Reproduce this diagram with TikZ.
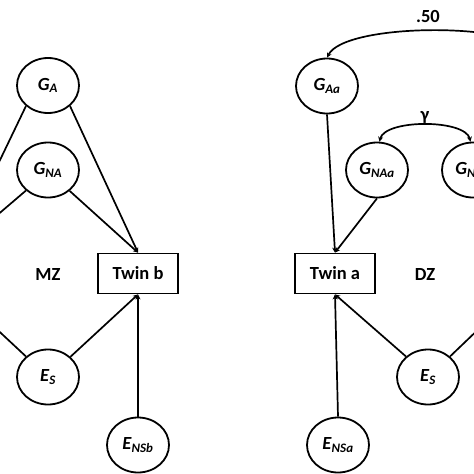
\documentclass[tikz,border=0pt]{standalone}
\usepackage{fontspec}
\setmainfont{Carlito}
\usepackage{tikz}
\usetikzlibrary{shapes.geometric, arrows.meta, positioning, calc}

\begin{document}
\begin{tikzpicture}[
    x=1pt, y=-1pt,
    every node/.style={font=\fontsize{18.5}{22}\selectfont\bfseries},
    latent/.style={draw, ellipse, line width=1.8pt, minimum width=62pt, minimum height=55pt, inner sep=0pt},
    twin/.style={draw, rectangle, line width=1.8pt, minimum width=80pt, minimum height=40pt, inner sep=0pt},
    path/.style={line width=1.7pt},
    arrow/.style={-{Stealth[length=5pt, width=5pt]}, line width=1.7pt},
    dblarrow/.style={{Stealth[length=5pt, width=5pt]}-{Stealth[length=5pt, width=5pt]}, line width=1.7pt},
  ]
  \useasboundingbox (0,0) rectangle (474,474);
  \clip (0,0) rectangle (474,474);

  % MZ pair - twin b side
  \node[latent] (ga) at (48,85.5) {\textit{G}\textsubscript{\textit{A}}};
  \node[latent] (gna) at (48,170) {\textit{G}\textsubscript{\textit{NA}}};
  \node[latent] (es) at (48,377) {\textit{E}\textsubscript{\textit{S}}};
  \node[twin] (twinb) at (138,273.5) {Twin b};
  \node[latent] (ensb) at (138,445) {\textit{E}\textsubscript{\textit{NSb}}};
  \node (mz) at (48,274) {MZ};

  % DZ pair - twin a side
  \node[latent] (gaa) at (327,86) {\textit{G}\textsubscript{\textit{Aa}}};
  \node[latent] (gnaa) at (377,170) {\textit{G}\textsubscript{\textit{NAa}}};
  \node[latent] (gnab) at (473,170) {\textit{G}\textsubscript{\textit{NAb}}};
  \node[twin] (twina) at (335,273.5) {Twin a};
  \node[latent] (esr) at (428,377) {\textit{E}\textsubscript{\textit{S}}};
  \node[latent] (ensa) at (338,445) {\textit{E}\textsubscript{\textit{NSa}}};
  \node (dz) at (425,274) {DZ};

  % Free ends leaving the frame
  \coordinate (offga) at (-12,185);
  \coordinate (offgna) at (-12,223);
  \coordinate (offes) at (-12,321);
  \coordinate (offesr) at (486,322);
  \coordinate (gab) at (540,57);

  % Paths - MZ
  \draw[path] (ga.-137) -- (offga);
  \draw[arrow] (ga.-43) -- (twinb.north);
  \draw[path] (gna.-137) -- (offgna);
  \draw[arrow] (gna.-44) -- (twinb.north);
  \draw[path] (es.137) -- (offes);
  \draw[arrow] (es.42) -- (twinb.south);
  \draw[arrow] (ensb.north) -- (twinb.south);

  % Paths - DZ
  \draw[arrow] (gaa.south) -- (twina.north);
  \draw[arrow] (gnaa.south) -- (twina.north);
  \draw[arrow] (esr.137) -- (twina.south);
  \draw[path] (esr.43) -- (offesr);
  \draw[arrow] (ensa.north) -- (twina.south);

  % Correlations
  \draw[dblarrow] (gab) .. controls (523,22) and (345,22) .. node[pos=0.52, above=4pt] {.50} (gaa.north);
  \draw[dblarrow] (gnaa.85) .. controls (385,119) and (465,119) .. node[pos=0.5, above, inner sep=0.5pt] {γ} (gnab.95);

\end{tikzpicture}
\end{document}
